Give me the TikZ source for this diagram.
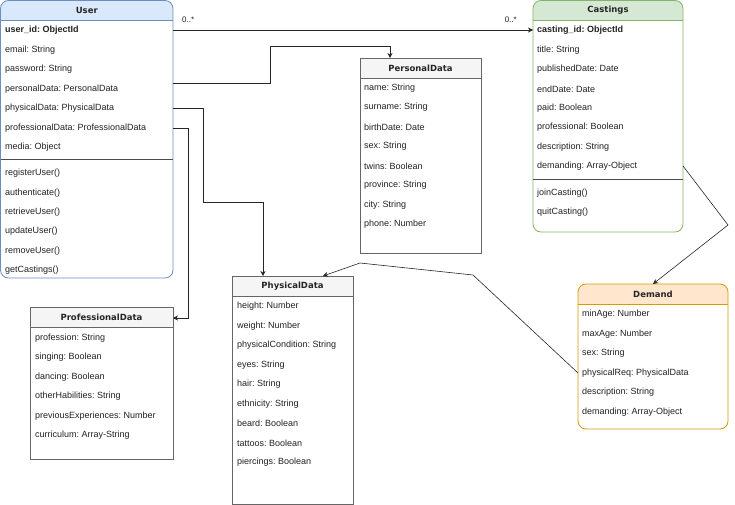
\documentclass[tikz,border=0pt]{standalone}
\usepackage{fontspec}
\setmainfont{Liberation Sans}
\newfontfamily\ttlfam{DejaVu Sans}
\usetikzlibrary{calc,arrows.meta}
\frenchspacing
\definecolor{ublueF}{HTML}{DAE8FC}\definecolor{ublueS}{HTML}{6C8EBF}
\definecolor{ugreenF}{HTML}{D5E8D4}\definecolor{ugreenS}{HTML}{82B366}
\definecolor{uorF}{HTML}{FFE6CC}\definecolor{uorS}{HTML}{D79B00}
\definecolor{ugrayF}{HTML}{F5F5F5}\definecolor{ugrayS}{HTML}{666666}
\definecolor{utxt}{HTML}{222222}
\newcommand{\mkbox}[9]{%
  \node[fill=white, #8, anchor=north west, minimum width=#4pt-#2pt, minimum height=#5pt-#3pt, inner sep=0pt, outer sep=0pt] (#1) at (#2,#3) {};
  \begin{scope}
    \clip[#8] (#1.north west) rectangle (#1.south east);
    \fill[#6] (#1.north west) rectangle ($(#1.north east)+(0,20)$);
  \end{scope}
  \draw[#7, line width=.8pt, #8] (#1.north west) rectangle (#1.south east);
  \draw[#7, line width=.8pt] ($(#1.north west)+(0,20)$) -- ($(#1.north east)+(0,20)$);
  \node[ttl] (#1-t) at ($(#1.north)+(0,10)$) {#9};
}
\tikzset{
  row/.style={anchor=west, inner sep=0pt, text=utxt, font=\frenchspacing\fontsize{9}{11}\selectfont},
  brow/.style={row, font=\frenchspacing\fontsize{9}{11}\selectfont\bfseries},
  ttl/.style={inner sep=0pt, text=black!85, font=\ttlfam\bfseries\fontsize{8.5}{10}\selectfont},
  lbl/.style={inner sep=0pt, text=utxt, font=\fontsize{8}{10}\selectfont},
  conn/.style={line width=.6pt, black!85},
  arr/.style={conn, -{Stealth[length=5pt,width=5pt]}},
  sepline/.style={line width=.8pt, black!70},
  rnd/.style={rounded corners=8pt},
  shp/.style={sharp corners}
}
\begin{document}
\begin{tikzpicture}[x=1pt,y=-1pt]
\useasboundingbox (0,0) rectangle (735,505);
% ---------- User ----------
\mkbox{user}{0.5}{0.5}{173}{278}{ublueF}{ublueS}{rnd}{User}
\draw[sepline] (0.5,159) -- (173,159);
\node[brow] (u1) at (5,30) {user\_id: ObjectId};
\node[row] (u2) at (5,50) {email: String};
\node[row] (u3) at (5,69) {password: String};
\node[row] (u4) at (5,89) {personalData: PersonalData};
\node[row] (u5) at (5,108) {physicalData: PhysicalData};
\node[row] (u6) at (5,128) {professionalData: ProfessionalData};
\node[row] (u7) at (5,147) {media: Object};
\node[row] (um1) at (5,173) {registerUser()};
\node[row] (um2) at (5,193) {authenticate()};
\node[row] (um3) at (5,212) {retrieveUser()};
\node[row] (um4) at (5,231) {updateUser()};
\node[row] (um5) at (5,251) {removeUser()};
\node[row] (um6) at (5,270) {getCastings()};
% ---------- Castings ----------
\mkbox{cast}{533}{0.5}{683}{232}{ugreenF}{ugreenS}{rnd}{Castings}
\draw[sepline] (533,179) -- (683,179);
\node[brow] (c1) at (537,30) {casting\_id: ObjectId};
\node[row] (c2) at (537,50) {title: String};
\node[row] (c3) at (537,69) {publishedDate: Date};
\node[row] (c4) at (537,89) {endDate: Date};
\node[row] (c5) at (537,108) {paid: Boolean};
\node[row] (c6) at (537,127) {professional: Boolean};
\node[row] (c7) at (537,147) {description: String};
\node[row] (c8) at (537,166) {demanding: Array-Object};
\node[row] (cm1) at (537,193) {joinCasting()};
\node[row] (cm2) at (537,212) {quitCasting()};
% ---------- PersonalData ----------
\mkbox{pers}{360}{58}{481}{253}{ugrayF}{ugrayS}{shp}{PersonalData}
\node[row] (p1) at (364,88) {name: String};
\node[row] (p2) at (364,107) {surname: String};
\node[row] (p3) at (364,127) {birthDate: Date};
\node[row] (p4) at (364,146) {sex: String};
\node[row] (p5) at (364,166) {twins: Boolean};
\node[row] (p6) at (364,185) {province: String};
\node[row] (p7) at (364,205) {city: String};
\node[row] (p8) at (364,224) {phone: Number};
% ---------- PhysicalData ----------
\mkbox{phys}{232}{276}{353}{504}{ugrayF}{ugrayS}{shp}{PhysicalData}
\node[row] (f1) at (237,306) {height: Number};
\node[row] (f2) at (237,326) {weight: Number};
\node[row] (f3) at (237,345) {physicalCondition: String};
\node[row] (f4) at (237,365) {eyes: String};
\node[row] (f5) at (237,384) {hair: String};
\node[row] (f6) at (237,404) {ethnicity: String};
\node[row] (f7) at (237,423) {beard: Boolean};
\node[row] (f8) at (237,443) {tattoos: Boolean};
\node[row] (f9) at (237,462) {piercings: Boolean};
% ---------- ProfessionalData ----------
\mkbox{prof}{30}{307}{173}{459}{ugrayF}{ugrayS}{shp}{ProfessionalData}
\node[row] (r1) at (35,338) {profession: String};
\node[row] (r2) at (35,357) {singing: Boolean};
\node[row] (r3) at (35,377) {dancing: Boolean};
\node[row] (r4) at (35,396) {otherHabilities: String};
\node[row] (r5) at (35,416) {previousExperiences: Number};
\node[row] (r6) at (35,435) {curriculum: Array-String};
% ---------- Demand ----------
\mkbox{dem}{578}{284}{728}{429}{uorF}{uorS}{rnd}{Demand}
\node[row] (d1) at (582,314) {minAge: Number};
\node[row] (d2) at (582,334) {maxAge: Number};
\node[row] (d3) at (582,353) {sex: String};
\node[row] (d4) at (582,373) {physicalReq: PhysicalData};
\node[row] (d5) at (582,392) {description: String};
\node[row] (d6) at (582,412) {demanding: Array-Object};
% ---------- connectors ----------
\coordinate (persIn) at ($(pers.north west)+(30,0)$);
\coordinate (physIn) at ($(phys.north west)+(31,0)$);
\coordinate (physIn2) at ($(phys.north west)+(91,0)$);
\coordinate (profIn) at ($(prof.north east)+(0,11)$);
\draw[arr] (user.east |- u1.west) -- (cast.west |- c1.west);
\node[lbl, anchor=west] (m1) at (182,20) {0..*};
\node[lbl, anchor=east] (m2) at (517,20) {0..*};
\draw[arr] ($(user.east |- u4.west)+(0,-6)$) -| (270,46) -| (persIn);
\draw[arr] (user.east |- u5.west) -| (203,202) -| (physIn);
\draw[arr] (user.east |- u6.west) -| (188,318) -- (profIn);
\draw[arr] (cast.east |- c8.west) -- (728,225) -- (dem.north);
\draw[arr] (dem.west |- d4.west) -- (473,275) -- (360,263) -- (physIn2);
\end{tikzpicture}
\end{document}
